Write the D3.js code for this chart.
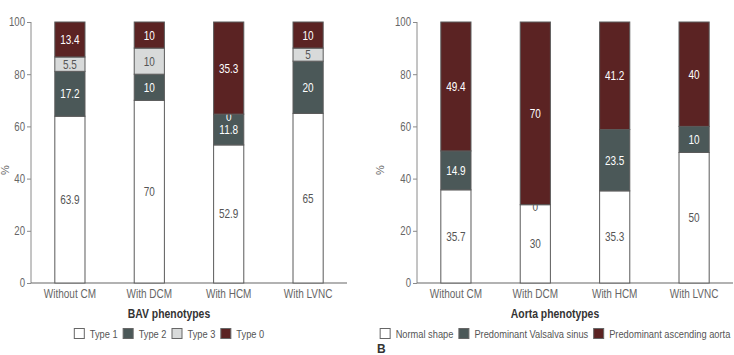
<!DOCTYPE html>
<html>
<head>
    <meta charset="utf-8">
    <title>BAV and aorta phenotypes</title>
    <style>
        body { margin: 0; background: #fff; }
        svg text { font-family: "Liberation Sans", Arial, sans-serif; }
        .axis path, .axis line { stroke: #8a8a8a; }
        .axis text { fill: #666; font-size: 12px; }
    </style>
</head>
<body>
    <script src="https://d3js.org/d3.v7.min.js"></script>
    <script>
        const width = 734;
        const height = 355;

        // data
        const categories = ["Without CM", "With DCM", "With HCM", "With LVNC"];
        const yTicks = [0, 20, 40, 60, 80, 100];

        const bavSeries = ["Type 1", "Type 2", "Type 3", "Type 0"];
        const bavType1 = [63.9, 70, 52.9, 65];
        const bavType2 = [17.2, 10, 11.8, 20];
        const bavType3 = [5.5, 10, 0, 5];
        const bavType0 = [13.4, 10, 35.3, 10];

        const aortaSeries = ["Normal shape", "Predominant Valsalva sinus", "Predominant ascending aorta"];
        const aortaNormal = [35.7, 30, 35.3, 50];
        const aortaValsalva = [14.9, 0, 23.5, 10];
        const aortaAscending = [49.4, 70, 41.2, 40];

        const fills = {
            white: "#ffffff",
            dark: "#4b5858",
            light: "#d8dada",
            red: "#5b2323"
        };

        const narrow = 0.8; // the original uses a condensed face

        const svg = d3.select("body").append("svg")
            .attr("width", width)
            .attr("height", height);

        // squeeze text horizontally around its x anchor to fake a condensed font
        function condense(sel) {
            sel.each(function () {
                const x0 = +this.getAttribute("x") || 0;
                this.__w = this.getComputedTextLength() * narrow;
                d3.select(this)
                    .attr("transform", `translate(${x0 * (1 - narrow)},0) scale(${narrow},1)`);
            });
        }

        function drawPanel(opts) {
            const g = svg.append("g");
            const x = d3.scaleBand()
                .domain(categories)
                .range([opts.x0, opts.x0 + 316])
                .paddingInner(0.62)
                .paddingOuter(0.3);
            const y = d3.scaleLinear().domain([0, 100]).range([283, 22]);

            // y axis
            g.append("g")
                .attr("class", "axis")
                .attr("transform", `translate(${opts.x0},0)`)
                .call(d3.axisLeft(y).tickValues(yTicks).tickSize(4).tickSizeOuter(0).tickPadding(2))
                .call(a => a.select(".domain").attr("d", `M0,${y(100)}V${y(0)}`))
                .call(a => a.selectAll(".tick text").call(condense));

            // x axis line
            g.append("line")
                .attr("x1", opts.x0).attr("x2", opts.x0 + 316)
                .attr("y1", y(0)).attr("y2", y(0))
                .attr("stroke", "#666").attr("stroke-width", 1.2);

            g.selectAll(".cat")
                .data(categories)
                .enter().append("text")
                .attr("class", "cat")
                .attr("x", d => x(d) + x.bandwidth() / 2)
                .attr("y", 298)
                .attr("text-anchor", "middle")
                .attr("fill", "#666")
                .attr("font-size", "12.5px")
                .text(d => d)
                .call(condense);

            // stacked segments, labels of each series right after its rects
            const cum = categories.map(() => 0);
            opts.values.forEach((vals, si) => {
                const seg = vals.map((v, i) => {
                    const s = { cat: categories[i], v: v, y0: cum[i], y1: cum[i] + v, si: si };
                    cum[i] += v;
                    return s;
                });
                g.selectAll(null)
                    .data(seg)
                    .enter().append("rect")
                    .attr("x", d => x(d.cat))
                    .attr("width", x.bandwidth())
                    .attr("y", d => y(d.y1))
                    .attr("height", d => y(d.y0) - y(d.y1))
                    .attr("fill", opts.colors[si])
                    .attr("stroke", "#5a5a5a")
                    .attr("stroke-width", 1);

                g.selectAll(null)
                    .data(seg)
                    .enter().append("text")
                    .attr("x", d => x(d.cat) + x.bandwidth() / 2)
                    .attr("y", d => y((d.y0 + d.y1) / 2) + (d.v === 0 ? 2 : 0))
                    .attr("dy", "0.36em")
                    .attr("text-anchor", "middle")
                    .attr("font-size", "12.5px")
                    .attr("fill", d => {
                        const c = d.v === 0 && si > 0 ? opts.colors[si - 1] : opts.colors[si];
                        return (c === fills.dark || c === fills.red) ? "#fff" : "#555";
                    })
                    .text(d => d.v)
                    .call(condense);
            });

            // % label
            g.append("text")
                .attr("transform", `translate(${Math.max(opts.x0 - 33, 9)},170) rotate(-90)`)
                .attr("text-anchor", "middle")
                .attr("font-size", "11px")
                .attr("fill", "#666")
                .text("%");

            // x title
            const cx = opts.x0 + 138;
            g.append("text")
                .attr("x", cx)
                .attr("y", 318)
                .attr("text-anchor", "middle")
                .attr("font-size", "13px")
                .attr("font-weight", "bold")
                .attr("fill", "#333")
                .text(opts.title)
                .call(condense);

            // legend
            const leg = g.append("g");
            let lx = 0;
            opts.series.forEach((name, i) => {
                leg.append("rect")
                    .attr("x", lx + 0.5).attr("y", -5.5)
                    .attr("width", 10).attr("height", 10)
                    .attr("fill", opts.colors[i])
                    .attr("stroke", "#666");
                const t = leg.append("text")
                    .attr("x", lx + 16)
                    .attr("y", 0)
                    .attr("dy", "0.36em")
                    .attr("font-size", "11.6px")
                    .attr("fill", "#555")
                    .text(name)
                    .call(condense);
                lx += 16 + t.node().__w + 5;
            });
            lx -= 5;
            leg.attr("transform", `translate(${cx - lx / 2},334)`);
        }

        drawPanel({
            x0: 31,
            title: "BAV phenotypes",
            series: bavSeries,
            values: [bavType1, bavType2, bavType3, bavType0],
            colors: [fills.white, fills.dark, fills.light, fills.red]
        });

        drawPanel({
            x0: 417,
            title: "Aorta phenotypes",
            series: aortaSeries,
            values: [aortaNormal, aortaValsalva, aortaAscending],
            colors: [fills.white, fills.dark, fills.red]
        });

        svg.append("text")
            .attr("x", 377)
            .attr("y", 353)
            .attr("font-size", "12px")
            .attr("font-weight", "bold")
            .attr("fill", "#333")
            .text("B");
    </script>
</body>
</html>
